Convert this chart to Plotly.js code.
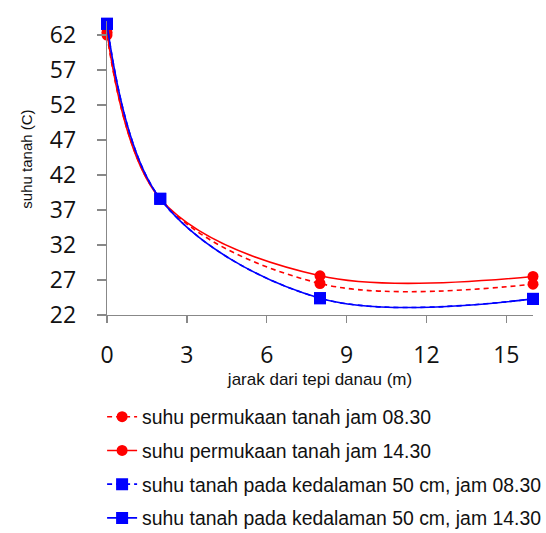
<!DOCTYPE html>
<html>
<head>
<meta charset="utf-8">
<script src="https://cdn.plot.ly/plotly-3.0.1.min.js"></script>
<style>html,body{margin:0;padding:0;background:#fff;}#chart{width:546px;height:533px;}</style>
</head>
<body>
<div id="chart"></div>
<script>
// Data
var jarak = [0, 2, 8, 16];
var permukaan0830 = [62.0, 38.6, 26.5, 26.4];
var permukaan1430 = [62.4, 38.6, 27.6, 27.5];
var kedalaman0830 = [63.6, 38.6, 24.4, 24.3];
var kedalaman1430 = [63.6, 38.6, 24.4, 24.3];
var seriesNames = [
  "suhu permukaan tanah jam 08.30",
  "suhu permukaan tanah jam 14.30",
  "suhu tanah pada kedalaman 50 cm, jam 08.30",
  "suhu tanah pada kedalaman 50 cm, jam 14.30"
];
var yTicks = [22, 27, 32, 37, 42, 47, 52, 57, 62];
var xTicks = [0, 3, 6, 9, 12, 15];
var yTitle = "suhu tanah (C)";
var xTitle = "jarak dari tepi danau (m)";

function tr(y, name, color, dash, symbol, size, grp) {
  return {
    x: jarak, y: y, name: name, type: "scatter", mode: "lines+markers",
    line: {color: color, width: 1.6, dash: dash, shape: "spline", smoothing: 1},
    marker: {color: color, symbol: symbol, size: size},
    cliponaxis: false, legendgroup: grp
  };
}
var data = [
  tr(permukaan0830, seriesNames[0], "#ff0000", "5px,4px", "circle", 11, "a"),
  tr(permukaan1430, seriesNames[1], "#ff0000", "solid", "circle", 11, "b"),
  tr(kedalaman0830, seriesNames[2], "#0000ff", "5px,4px", "square", 12, "c"),
  tr(kedalaman1430, seriesNames[3], "#0000ff", "solid", "square", 12, "d")
];
var layout = {
  width: 546, height: 533,
  margin: {l: 106.5, r: 13, t: 21, b: 218, autoexpand: false},
  paper_bgcolor: "#fff", plot_bgcolor: "#fff",
  showlegend: true,
  font: {family: "Liberation Sans, Arial, sans-serif", color: "#000"},
  xaxis: {
    range: [0, 16], tickvals: xTicks, ticktext: xTicks.map(String),
    showgrid: false, zeroline: false, showline: true, linecolor: "#888", linewidth: 1.3,
    ticks: "outside", ticklen: 7, tickcolor: "#888", tickwidth: 1.3,
    ticklabelstandoff: 12, tickangle: 0, automargin: false,
    tickfont: {family: "Open Sans, Lato, sans-serif", size: 23, color: "#111"},
    title: {text: xTitle, font: {size: 17, color: "#111"}, standoff: 0},
    fixedrange: true
  },
  yaxis: {
    range: [22, 64], tickvals: yTicks, ticktext: yTicks.map(String),
    showgrid: false, zeroline: false, showline: true, linecolor: "#888", linewidth: 1.3,
    ticks: "outside", ticklen: 9, tickcolor: "#888", tickwidth: 1.3,
    ticklabelstandoff: 16, automargin: false,
    tickfont: {family: "Open Sans, Lato, sans-serif", size: 23, color: "#111"},
    fixedrange: true
  },
  annotations: [{
    text: yTitle, textangle: -90, showarrow: false,
    xref: "paper", yref: "paper", x: -0.191, y: 0.5306,
    xanchor: "center", yanchor: "middle",
    font: {size: 15, color: "#111"}
  }],
  legend: {
    xref: "container", yref: "container",
    x: 0.187, xanchor: "left", y: 0.254, yanchor: "top",
    font: {size: 19.4, color: "#111"},
    tracegroupgap: 5.5, bgcolor: "rgba(0,0,0,0)", itemwidth: 30
  }
};
Plotly.newPlot("chart", data, layout, {displayModeBar: false, staticPlot: true});
</script>
</body>
</html>
